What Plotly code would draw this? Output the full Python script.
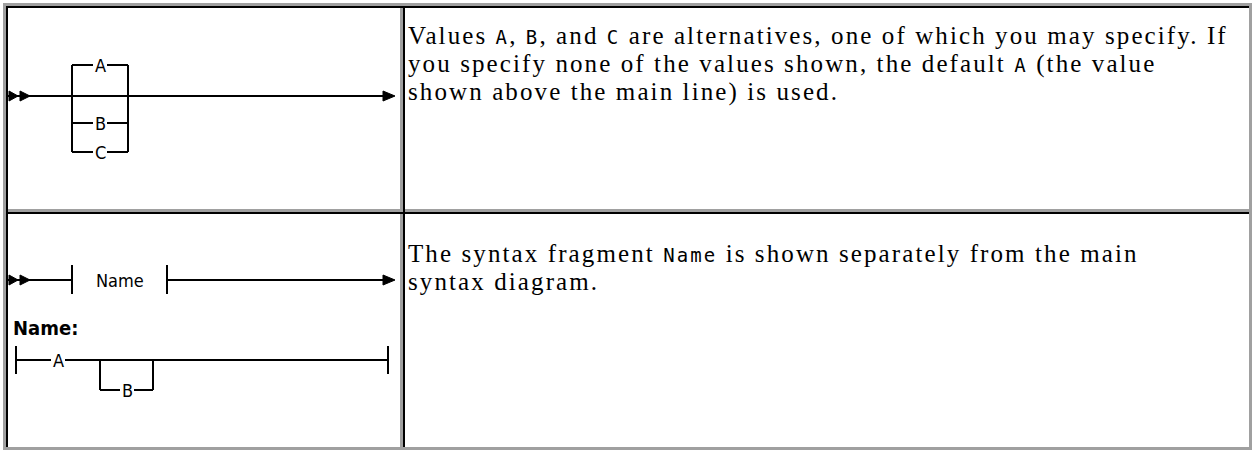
import plotly.graph_objects as go

# ---- content ----
row1_lines = [
    ["Values ", ("A",), ", ", ("B",), ", and ", ("C",), " are alternatives, one of which you may specify. If"],
    ["you specify none of the values shown, the default ", ("A",), " (the value"],
    ["shown above the main line) is used."],
]
row2_lines = [
    ["The syntax fragment ", ("Name",), " is shown separately from the main"],
    ["syntax diagram."],
]
choice_labels = ["A", "B", "C"]
fragment_name = "Name"
fragment_labels = ["A", "B"]

# ---- page geometry (pixels) ----
W, H = 1253, 450
GRAY = "#a0a0a0"
SERIF = "Liberation Serif, Times New Roman, serif"
MONO = "DejaVu Sans Mono, monospace"
DIAG = "DejaVu Sans Condensed, Liberation Sans Narrow, Liberation Sans, sans-serif"
TEXT_SIZE = 25
MONO_SIZE = 19
BASE_SIZE = 21.5   # sets the line pitch (1.3em -> 28px)
SPACING = "2.1px"

shapes = []
annotations = []


def rect(x0, y0, x1, y1, color):
    shapes.append(dict(type="rect", x0=x0, y0=y0, x1=x1, y1=y1,
                       fillcolor=color, line=dict(width=0), layer="above"))


def seg(x0, y0, x1, y1):
    shapes.append(dict(type="line", x0=x0, y0=y0, x1=x1, y1=y1,
                       line=dict(color="black", width=2), layer="above"))


def tri(xb, xt, y, h):
    shapes.append(dict(type="path", path=f"M{xb},{y-h} L{xt},{y} L{xb},{y+h} Z",
                       fillcolor="black", line=dict(color="black", width=1), layer="above"))


def label(x, y, text, size=18, bold=False, anchor="center"):
    t = f"<b>{text}</b>" if bold else text
    annotations.append(dict(x=x, y=y, text=t, showarrow=False, xanchor=anchor, yanchor="middle",
                            font=dict(family=DIAG, size=size, color="black")))


def rich(lines):
    out = []
    for parts in lines:
        s = ""
        for p in parts:
            if isinstance(p, tuple):
                s += (f'<span style="font-family:{MONO};font-size:{MONO_SIZE}px;'
                      f'letter-spacing:{SPACING}">{p[0]}</span>')
            else:
                s += f'<span style="font-size:{TEXT_SIZE}px;letter-spacing:{SPACING}">{p}</span>'
        out.append(s)
    return "<br>".join(out)


def paragraph(y_top, lines):
    annotations.append(dict(x=406, y=y_top, text=rich(lines), showarrow=False,
                            xanchor="left", yanchor="top", align="left",
                            font=dict(family=SERIF, size=BASE_SIZE, color="black")))


# ---- table borders ----
rect(3, 3, 1252, 6, GRAY)       # outer top
rect(3, 3, 6, 450, GRAY)        # outer left
rect(1249, 3, 1252, 450, GRAY)  # outer right
rect(3, 447, 1252, 450, GRAY)   # outer bottom
rect(400, 3, 403, 450, GRAY)    # column divider
rect(3, 209, 1252, 212, GRAY)   # row divider
rect(6, 6, 1249, 8, "black")
rect(6, 6, 8, 447, "black")
rect(403, 6, 405, 447, "black")
rect(6, 212, 1249, 214, "black")

# ---- diagram 1: choices A (default), B, C ----
main_y = 96
seg(8, main_y, 386, main_y)
tri(9, 18, main_y, 5)
tri(20, 30, main_y, 5)
tri(383, 395, main_y, 5)
box_l, box_r = 72, 128
choice_y = [65, 123, 152]
seg(box_l, choice_y[0], box_l, choice_y[-1])
seg(box_r, choice_y[0], box_r, choice_y[-1])
for lab, cy in zip(choice_labels, choice_y):
    seg(box_l, cy, 93, cy)
    seg(107, cy, box_r, cy)
    label(100, cy, lab)

# ---- diagram 2: fragment reference ----
main2_y = 280
seg(8, main2_y, 72, main2_y)
tri(9, 18, main2_y, 5)
tri(20, 30, main2_y, 5)
seg(72, 265, 72, 294)
label(120, main2_y, fragment_name)
seg(167, 265, 167, 294)
seg(167, main2_y, 386, main2_y)
tri(383, 395, main2_y, 5)

label(11, 328, fragment_name + ":", size=20, bold=True, anchor="left")
frag_y, branch_y = 360, 390
seg(16, 346, 16, 374)
seg(16, frag_y, 51, frag_y)
label(58, frag_y, fragment_labels[0])
seg(65, frag_y, 388, frag_y)
seg(388, 346, 388, 374)
seg(100, frag_y, 100, branch_y)
seg(153, frag_y, 153, branch_y)
seg(100, branch_y, 120, branch_y)
label(127, branch_y, fragment_labels[1])
seg(134, branch_y, 153, branch_y)

# ---- description text ----
paragraph(20, row1_lines)
paragraph(238, row2_lines)

fig = go.Figure()
fig.update_layout(
    width=W, height=H,
    margin=dict(l=0, r=0, t=0, b=0),
    paper_bgcolor="white", plot_bgcolor="white",
    xaxis=dict(range=[0, W], visible=False, fixedrange=True),
    yaxis=dict(range=[H, 0], visible=False, fixedrange=True),
    shapes=shapes, annotations=annotations, showlegend=False,
)
fig.write_html("out.html", config={"displayModeBar": False},
               post_script="document.body.style.margin = '0';")
